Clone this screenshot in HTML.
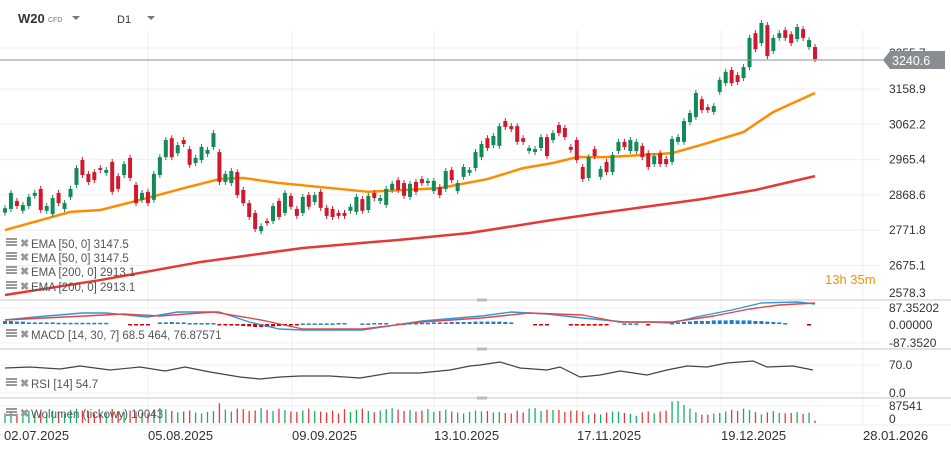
<!DOCTYPE html>
<html><head><meta charset="utf-8">
<style>
html,body{margin:0;padding:0;background:#fff;width:951px;height:449px;overflow:hidden;font-family:"Liberation Sans",sans-serif}
svg{display:block}
</style></head><body>
<svg id="c" width="951" height="449" xmlns="http://www.w3.org/2000/svg"></svg>
<script>
const opens=[2820,2830,2852,2825,2838,2866,2885,2825,2816,2874,2830,2863,2896,2964,2926,2931,2942,2929,2959,2920,2923,2970,2896,2855,2877,2855,2923,2972,3024,2983,3019,2994,2956,2964,2981,3000,2986,2904,2901,2931,2882,2846,2819,2769,2797,2797,2852,2819,2866,2830,2819,2868,2849,2877,2833,2830,2819,2819,2825,2822,2857,2827,2874,2852,2841,2882,2909,2901,2863,2904,2912,2901,2879,2890,2885,2937,2879,2918,2929,2942,2972,3024,3005,3003,3071,3057,3057,3024,2989,2986,2997,3027,3019,3060,3052,3000,3019,2945,2915,2994,2918,2959,2931,2989,3014,2989,2989,3003,2983,2953,2983,2967,2959,3014,3014,3068,3082,3131,3109,3096,3151,3175,3211,3197,3189,3219,3312,3285,3334,3263,3299,3320,3309,3296,3323,3274,3274];
const closes=[2832,2874,2838,2841,2863,2874,2827,2838,2860,2846,2846,2885,2942,2923,2904,2909,2937,2937,2877,2885,2953,2915,2846,2874,2846,2926,2972,3019,2972,3005,3008,2951,2970,3000,2992,3038,2904,2926,2934,2868,2846,2808,2775,2783,2791,2838,2808,2874,2836,2811,2863,2836,2868,2833,2811,2808,2811,2811,2836,2863,2825,2866,2860,2860,2885,2899,2882,2866,2899,2877,2901,2907,2907,2868,2934,2909,2901,2945,2937,2986,3008,2997,3030,3057,3055,3049,3014,3014,2997,2994,3027,2975,3038,3038,3027,2992,2964,2912,2972,2975,2940,2931,2978,3014,3000,3019,3014,2972,2945,2975,2953,2953,3022,3027,3071,3093,3148,3101,3101,3112,3184,3206,3175,3178,3219,3299,3268,3340,3249,3299,3312,3299,3285,3329,3299,3293,3241];
const ema50Idx=[0,11,16,22,30,36,40,46,53,61,67,73,81,87,92,96,101,107,112,118,124,129,136];
const ema50Val=[2772,2822,2827,2852,2887,2912,2915,2901,2890,2877,2882,2887,2912,2942,2956,2972,2972,2978,2983,3011,3041,3096,3148];
const ema200Idx=[0,16,33,50,66,78,92,100,117,126,136];
const ema200Val=[2594,2635,2685,2723,2745,2764,2800,2819,2857,2882,2920];
const priceTicks=[3158.9,3062.2,2965.4,2868.6,2771.8,2675.1];
const macdIdx=[0,5,13,17,24,29,36,41,46,50,60,70,80,85,91,97,104,108,112,116,122,127,133,136];
const macdVal=[25,40,60,60,40,65,65,15,-20,-25,-25,20,45,65,55,35,15,15,10,40,75,110,115,105];
const signalIdx=[0,10,20,26,35,43,50,60,70,80,88,97,103,112,119,125,130,136];
const signalVal=[25,40,55,45,65,25,-20,-20,15,35,60,50,15,15,45,80,100,110];
const rsiX=[5,30,60,80,110,140,165,185,210,240,260,280,300,330,360,390,420,450,470,480,500,520,547,560,580,600,620,647,667,687,707,727,753,767,793,813];
const rsiY=[368,367,369,366,370,367,371,367,372,377,379,377,376,376,378,373,373,370,366,365,362,368,370,367,377,375,371,375,370,366,367,363,361,367,366,370];
const hist=[15,15,12,12,8,8,8,8,8,6,6,6,6,6,6,6,6,6,0,0,0,-5,-5,-5,-5,0,8,8,10,8,8,5,5,5,5,5,-5,-5,-8,-8,-10,-12,-15,-15,-15,-12,-10,-8,-3,-3,3,3,3,3,3,3,5,5,0,0,3,3,5,5,5,0,3,3,5,5,6,6,8,8,8,10,10,10,10,12,12,12,12,12,10,8,0,0,0,-3,-3,-3,0,0,0,-8,-8,-8,-8,-8,-8,-5,0,0,3,3,3,0,-3,0,0,0,5,8,10,12,15,15,15,18,18,18,20,18,18,18,15,15,12,10,8,5,0,0,0,-8];
const volumes=[40000,45000,38000,42000,50000,44000,48000,36000,52000,47000,40000,55000,60000,52000,45000,40000,38000,42000,58000,50000,46000,52000,48000,44000,40000,55000,62000,58000,50000,45000,48000,52000,44000,40000,46000,50000,82000,56000,48000,60000,58000,50000,52000,62000,55000,50000,60000,54000,48000,46000,52000,60000,50000,48000,44000,52000,40000,58000,46000,55000,60000,50000,45000,52000,58000,62000,56000,50000,54000,48000,52000,58000,46000,50000,56000,48000,44000,40000,46000,52000,48000,50000,44000,46000,42000,40000,52000,44000,60000,62000,50000,56000,54000,55000,46000,52000,52000,48000,34000,40000,36000,44000,48000,48000,42000,38000,30000,44000,48000,40000,48000,52000,90000,92000,75000,60000,45000,35000,35000,40000,42000,48000,55000,50000,60000,54000,45000,36000,44000,50000,42000,40000,42000,45000,38000,43000,10000];
const dateLabels=["02.07.2025","05.08.2025","09.09.2025","13.10.2025","17.11.2025","19.12.2025","28.01.2026"];
const dateX=[4,148,292,434,577,721,863];

const svg=document.getElementById('c');
const NS="http://www.w3.org/2000/svg";
function mk(t,a,p){const e=document.createElementNS(NS,t);for(const k in a)e.setAttribute(k,a[k]);(p||svg).appendChild(e);return e;}
const xOf=i=>5+i*5.956;
const yP=p=>89+(3158.9-p)/2.742;
const yM=v=>325-v/5;
const yV=v=>423-v*21/87541;

const grid=mk('g',{});


dateX.forEach(x=>{if(x>10)mk('line',{x1:x,y1:30,x2:x,y2:425,stroke:'#efefef','stroke-width':1},grid);});
priceTicks.forEach(p=>mk('line',{x1:0,y1:yP(p),x2:880,y2:yP(p),stroke:'#efefef'},grid));
mk('line',{x1:0,y1:48,x2:880,y2:48,stroke:'#efefef'},grid);
[308,343,365,393,406].forEach(y=>mk('line',{x1:0,y1:y,x2:880,y2:y,stroke:'#f2f2f2'},grid));
[300,349,398,425].forEach((y,k)=>{const l=mk('line',{x1:0,y1:y,x2:951,y2:y,stroke:k==3?'#eee':'#d8d8d8','stroke-width':k==3?1:1.5});});
[300,349,398].forEach(y=>mk('rect',{x:477,y:y-1.5,width:10,height:3,fill:'#bbb'}));

function poly(idx,vals,fy,col,w,name){const pts=idx.map((i,k)=>xOf(i)+','+fy(vals[k])).join(' ');const e=mk('polyline',{points:pts,fill:'none',stroke:col,'stroke-width':w,'stroke-linejoin':'round'});return e;}
poly(ema200Idx,ema200Val,yP,'#e53935',2.5,'ema-200-line');
poly(ema50Idx,ema50Val,yP,'#ff8c00',2.5,'ema-50-line');

const cg=mk('g',{});


opens.forEach((o,i)=>{const c=closes[i];const up=c>=o;const col=up?'#118a57':'#d0192e';const x=xOf(i);
 const t=yP(Math.max(o,c)),b=yP(Math.min(o,c));
 mk('line',{x1:x,y1:t-3,x2:x,y2:b+3,stroke:col,'stroke-width':1},cg);
 const r=mk('rect',{x:x-2,y:t,width:4,height:Math.max(1.5,b-t),fill:col},cg);
 
 });

mk('line',{x1:0,y1:60,x2:883,y2:60,stroke:'#8a9094','stroke-width':1});

const ax=mk('g',{'font-size':12,fill:'#333'});


priceTicks.forEach(p=>{const t=mk('text',{x:889,y:yP(p)+4},ax);t.textContent=p.toFixed(1);});
const t0=mk('text',{x:889,y:57},ax);t0.textContent='3255.7';
const t1=mk('text',{x:889,y:297},ax);t1.textContent='2578.3';
const tag=mk('path',{d:'M883,60 L890,51 L945,51 L945,69 L890,69 Z',fill:'#878d91'});


const tt=mk('text',{x:892,y:65,'font-size':12.5,fill:'#fff'});tt.textContent='3240.6';
const cd=mk('text',{x:825,y:284,'font-size':13,fill:'#f39200'});cd.textContent='13h 35m';


[['87.35202',312],['0.00000',329],['-87.3520',347],['70.0',369],['0.0',397],['87541',410],['0',423]].forEach(([s,y])=>{const t=mk('text',{x:889,y:y},ax);t.textContent=s;});

const hg=mk('g',{});


hist.forEach((v,i)=>{if(!v)return;const y0=yM(0)-1,y1=y0-v/5;mk('rect',{x:xOf(i)-2,y:Math.min(y0,y1),width:4,height:Math.max(1.5,Math.abs(y1-y0)),fill:v>0?'#1a7fcf':'#d00000'},hg);});
poly(macdIdx,macdVal,yM,'#2f97db',1.4,'macd-line');
poly(signalIdx,signalVal,yM,'#e04848',1.4,'signal-line');

const rp=mk('polyline',{points:rsiX.map((x,k)=>x+','+rsiY[k]).join(' '),fill:'none',stroke:'#444','stroke-width':1.2});



const vg=mk('g',{});


volumes.forEach((v,i)=>{const up=closes[i]>=opens[i];mk('line',{x1:xOf(i),y1:yV(v),x2:xOf(i),y2:423,stroke:up?'#14b06a':'#e23a3a','stroke-width':1.3},vg);});

const xg=mk('g',{'font-size':13,fill:'#333'});


dateLabels.forEach((s,k)=>{const t=mk('text',{x:dateX[k],y:440},xg);t.textContent=s;});

function legend(y,txt,name){const g=mk('g',{});
 mk('rect',{x:6,y:y-8,width:11,height:2,fill:'#999'},g);mk('rect',{x:6,y:y-5,width:11,height:2,fill:'#999'},g);mk('rect',{x:6,y:y-2,width:11,height:2,fill:'#999'},g);
 const x=mk('text',{x:20,y:y+1,'font-size':11,fill:'#999','font-weight':'bold'},g);x.textContent='✖';
 const t=mk('text',{x:31,y:y+2,'font-size':11.5,fill:'#555'},g);t.textContent=txt;}
legend(246,'EMA [50, 0]  3147.5','legend-ema50-a');
legend(260,'EMA [50, 0]  3147.5','legend-ema50-b');
legend(274,'EMA [200, 0]  2913.1','legend-ema200-a');
legend(289,'EMA [200, 0]  2913.1','legend-ema200-b');
legend(337,'MACD [14, 30, 7]  68.5 464,  76.87571','legend-macd');
legend(386,'RSI [14]  54.7','legend-rsi');
legend(416,'Wolumen (tickowy)  10043','legend-volume');

const h=mk('text',{x:18,y:23,'font-size':13,'font-weight':'bold',fill:'#333'});h.textContent='W20';

const cf=mk('text',{x:48,y:22,'font-size':7,fill:'#777'});cf.textContent='CFD';
const d1=mk('text',{x:117,y:23,'font-size':11,fill:'#333'});d1.textContent='D1';

mk('path',{d:'M72,16 L80,16 L76,20 Z',fill:'#777'});
mk('path',{d:'M147,16 L155,16 L151,20 Z',fill:'#777'});
</script>
</body></html>
